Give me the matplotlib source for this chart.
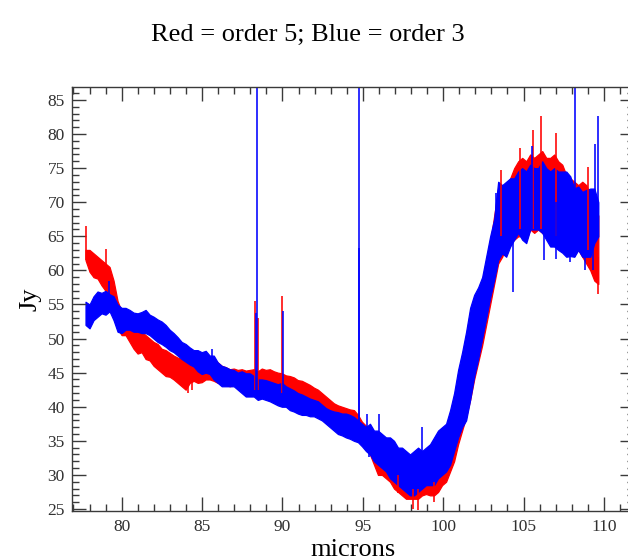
import numpy as np
import matplotlib
matplotlib.use("Agg")
import matplotlib.pyplot as plt

# ---------------- data ----------------
x_start, x_end, n_pts = 77.75, 109.65, 129

red_hi = [63.0, 63.0, 62.5, 62.0, 61.5, 61.0, 60.5, 58.5, 55.5, 54.0,
          53.0, 52.5, 52.0, 51.5, 51.0, 50.5, 50.0, 49.5, 49.2, 48.5,
          48.3, 47.9, 47.5, 47.2, 47.0, 46.8, 46.5, 46.9, 47.2, 46.8,
          47.0, 46.8, 47.0, 46.5, 46.0, 45.8, 45.5, 45.6, 45.4, 45.5,
          45.3, 45.4, 45.5, 45.2, 45.6, 45.4, 45.5, 45.2, 45.0, 44.9,
          44.6, 44.5, 44.3, 43.9, 43.8, 43.5, 43.2, 42.8, 42.5, 42.0,
          41.5, 41.0, 40.5, 40.2, 40.0, 39.8, 39.6, 39.5, 38.8, 37.8,
          37.2, 36.5, 36.0, 35.5, 35.0, 34.5, 34.0, 33.5, 33.0, 32.5,
          32.0, 32.0, 31.8, 31.5, 32.0, 32.5, 33.0, 33.5, 34.5, 35.5,
          36.5, 38.0, 40.0, 43.0, 46.0, 49.0, 52.0, 54.5, 56.0, 58.5,
          61.0, 64.0, 68.0, 72.0, 71.0, 72.0, 73.5, 75.0, 76.0, 76.5,
          76.0, 77.0, 76.5, 77.0, 77.5, 76.5, 76.5, 77.0, 76.0, 75.5,
          74.0, 73.5, 73.0, 72.5, 73.0, 72.5, 71.0, 70.0, 68.0]
red_lo = [61.5, 59.8, 59.0, 58.8, 57.8, 57.0, 55.5, 53.0, 51.5, 50.5,
          50.5, 49.5, 48.5, 47.8, 48.0, 47.0, 46.8, 46.0, 45.5, 45.0,
          44.5, 44.4, 44.0, 43.5, 43.0, 42.5, 43.5, 43.8, 43.5, 43.6,
          44.0, 44.0, 43.8, 43.5, 43.4, 43.2, 43.0, 43.2, 43.0, 43.0,
          42.6, 42.5, 42.5, 42.3, 42.8, 43.0, 42.8, 42.5, 42.3, 42.0,
          42.0, 41.8, 41.5, 41.0, 41.0, 40.5, 40.2, 39.8, 39.5, 39.3,
          39.0, 38.7, 38.3, 37.8, 37.5, 37.0, 36.5, 36.0, 35.5, 34.5,
          33.8, 33.0, 31.5, 30.0, 30.0, 29.5, 29.0, 28.0, 27.5, 27.0,
          26.5, 26.5, 26.5, 26.5, 27.0, 27.2, 27.0, 27.0, 27.5, 28.5,
          29.0, 30.5, 32.0, 34.5, 36.5, 38.5, 41.0, 44.0, 46.5, 49.0,
          52.0, 55.0, 58.0, 61.0, 62.0, 63.5, 64.0, 64.5, 65.0, 65.0,
          64.5, 66.0, 65.5, 66.0, 65.5, 65.0, 64.5, 64.0, 63.5, 63.0,
          63.0, 62.5, 62.5, 63.0, 62.0, 61.0, 60.0, 58.5, 58.0]

blue_hi = [55.4, 55.0, 56.2, 56.9, 56.7, 57.0, 56.5, 56.2, 55.0, 54.5,
           54.5, 54.2, 53.8, 53.7, 53.9, 54.2, 53.5, 53.2, 52.8, 52.5,
           52.0, 51.3, 50.8, 50.2, 49.5, 49.2, 48.7, 48.3, 48.3, 48.0,
           48.2, 47.5, 47.5, 46.5, 46.0, 45.8, 45.5, 45.4, 45.0, 45.2,
           44.9, 44.9, 44.5, 44.0, 44.0, 43.9, 43.7, 43.5, 43.3, 43.5,
           43.0, 42.7, 42.4, 42.0, 41.8, 41.5, 41.2, 41.0, 40.8, 40.3,
           39.8, 39.5, 39.3, 39.2, 39.0, 39.0, 38.8, 38.5, 38.0, 37.5,
           37.0, 37.5, 36.5, 36.5, 36.0, 35.5, 35.5, 35.0, 34.0, 34.0,
           33.5, 33.0, 33.5, 34.0, 33.5, 34.0, 34.5, 35.5, 36.5, 37.0,
           37.5, 39.5, 42.0, 45.4, 48.0, 51.0, 54.5, 56.4, 57.5, 59.0,
           62.0, 65.0, 67.5, 73.0, 72.5, 73.0, 73.5, 73.5, 74.5, 75.0,
           74.5, 75.5, 75.0, 75.0, 76.0, 75.0, 74.5, 75.0, 74.5, 74.5,
           74.5, 73.8, 72.0, 72.3, 71.5, 71.8, 72.0, 72.0, 70.0]
blue_lo = [52.0, 51.5, 52.7, 53.2, 53.7, 53.5, 54.0, 52.7, 51.0, 50.8,
           51.3, 51.3, 51.0, 51.0, 50.8, 50.8, 50.5, 50.0, 49.5, 49.2,
           48.8, 48.3, 48.0, 47.5, 47.0, 46.6, 46.2, 45.9, 45.2, 44.8,
           45.0, 44.8, 44.0, 43.5, 43.0, 43.0, 43.0, 43.0, 42.5, 42.0,
           41.5, 41.5, 41.5, 41.0, 41.2, 41.0, 40.8, 40.5, 40.2, 40.0,
           40.0, 39.5, 39.3, 39.0, 38.8, 38.8, 38.6, 38.6, 38.3, 38.0,
           37.5, 37.0, 36.5, 36.0, 35.8, 35.5, 35.3, 35.0, 34.8, 34.2,
           33.5, 33.0, 32.0, 31.5, 31.0, 30.5, 29.5, 29.0, 28.5, 28.0,
           27.5, 27.0, 27.0, 27.5, 28.0, 28.5, 28.5, 28.5, 29.5, 30.0,
           30.5, 31.5, 33.5, 35.5, 37.0, 38.0, 41.0, 44.4, 47.0, 50.0,
           53.0, 56.0, 58.6, 61.5, 62.5, 62.0, 63.5, 64.5, 65.5, 64.5,
           64.0, 66.0, 66.0, 66.0, 65.5, 64.5, 63.5, 63.5, 63.0, 62.6,
           62.0, 62.1, 62.0, 63.0, 62.0, 62.0, 62.0, 64.0, 65.0]

# narrow spikes (position, base, peak)
red_spike_x = [77.80, 79.00, 84.10, 84.40, 88.30, 88.48, 90.00, 97.20, 98.10,
               98.45, 99.40, 103.60, 104.80, 105.60, 106.10, 107.00, 109.00, 109.60]
red_spike_lo = [61.5, 57.0, 42.0, 42.5, 42.5, 42.5, 42.0, 27.4, 25.0,
                24.9, 26.0, 65.0, 66.0, 66.0, 66.0, 65.0, 63.0, 56.5]
red_spike_hi = [66.5, 63.2, 45.0, 45.0, 55.5, 53.0, 56.3, 30.0, 28.0,
                28.0, 29.0, 74.7, 77.9, 80.6, 82.6, 80.1, 75.2, 62.0]
blue_spike_x = [79.20, 85.60, 88.33, 88.40, 90.02, 94.74, 94.78, 95.25, 95.40,
                96.00, 98.70, 103.30, 104.35, 105.50, 106.30, 107.00, 107.90,
                108.23, 108.80, 109.30, 109.45, 109.62]
blue_spike_lo = [54.0, 45.0, 41.5, 41.5, 40.0, 35.0, 35.0, 34.0, 32.6,
                 32.0, 29.0, 60.0, 56.9, 66.0, 61.5, 61.7, 61.3,
                 62.0, 60.1, 60.0, 64.0, 65.0]
blue_spike_hi = [58.4, 48.5, 53.7, 150.0, 54.0, 63.3, 150.0, 38.9, 36.0,
                 38.9, 37.1, 71.3, 65.0, 78.2, 70.0, 70.0, 70.0,
                 150.0, 70.0, 70.0, 78.6, 82.6]

x_ticks = [80, 85, 90, 95, 100, 105, 110]
y_ticks = [25, 30, 35, 40, 45, 50, 55, 60, 65, 70, 75, 80, 85]

# ---------------- figure ----------------
serif = ["Liberation Serif", "DejaVu Serif"]
plt.rcParams["font.family"] = serif

W, H = 628, 560
fig = plt.figure(figsize=(W / 100, H / 100), dpi=100)
left, right, bottom, top = 71.7, 634.0, 510.7, 87.0
ax = fig.add_axes([left / W, 1 - bottom / H, (right - left) / W, (bottom - top) / H])

x = np.linspace(x_start, x_end, n_pts)
red, blue = "#ff0000", "#0000ff"

ax.fill_between(x, red_lo, red_hi, facecolor=red, edgecolor=red, linewidth=0.9)
ax.vlines(red_spike_x, red_spike_lo, red_spike_hi, color=red, linewidth=1.15)
ax.fill_between(x, blue_lo, blue_hi, facecolor=blue, edgecolor=blue, linewidth=0.9)
ax.vlines(blue_spike_x, blue_spike_lo, blue_spike_hi, color=blue, linewidth=1.15)

ax.set_xlim(76.89, 111.87)
ax.set_ylim(24.75, 86.9)
ax.set_xticks(x_ticks)
ax.set_yticks(y_ticks)
ax.set_xticks(np.arange(77, 112, 1), minor=True)
ax.set_yticks(np.arange(25, 87, 1), minor=True)

grey = "#3a3a3a"
for s in ax.spines.values():
    s.set_color(grey)
    s.set_linewidth(1.0)
ax.tick_params(which="both", direction="in", top=True, right=True,
               colors=grey, width=1.0, labelsize=12.5, labelcolor="#303030")
ax.tick_params(which="major", length=10)
ax.tick_params(which="minor", length=5)
ax.tick_params(axis="x", pad=6)
ax.tick_params(axis="y", pad=5)

ax.set_xlabel("microns", fontsize=19, labelpad=3)
ax.set_ylabel("Jy", fontsize=19, labelpad=4)
fig.text(0.49, 1 - 35 / H, "Red = order 5; Blue = order 3", fontsize=19,
         ha="center", va="center")

fig.savefig("out.png", dpi=100)
